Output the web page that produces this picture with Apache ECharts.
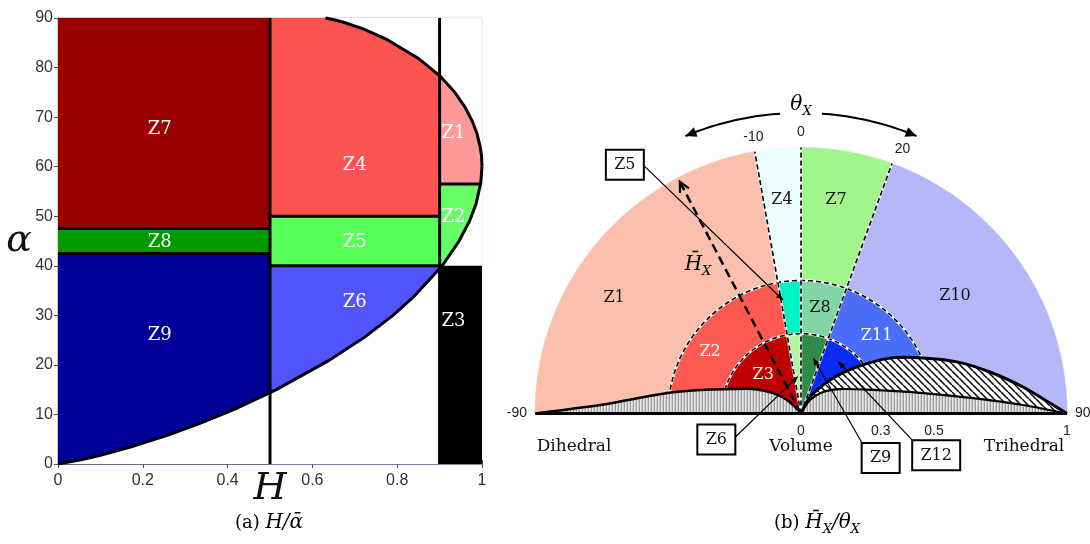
<!DOCTYPE html>
<html>
<head>
<meta charset="utf-8">
<title>H/alpha and Hx/thetaX zones</title>
<script src="https://cdn.jsdelivr.net/npm/echarts@6.0.0/dist/echarts.min.js"></script>
<style>
  html, body { margin: 0; padding: 0; background: #fff; }
  #main { width: 1090px; height: 544px; }
</style>
</head>
<body>
<div id="main"></div>
<script>
// ---------- (a) H / alpha plane ----------
const hTicks = [0, 0.2, 0.4, 0.6, 0.8, 1];
const alphaTicks = [0, 10, 20, 30, 40, 50, 60, 70, 80, 90];

const zoneNamesA = ['Z7', 'Z8', 'Z9', 'Z4', 'Z5', 'Z6', 'Z1', 'Z2', 'Z3'];
const zoneHA = [[0, 0.5], [0, 0.5], [0, 0.5], [0.5, 0.9], [0.5, 0.9], [0.5, 0.9], [0.9, 1], [0.9, 1], [0.9, 1]];
const zoneAlphaA = [[47.5, 90], [42.5, 47.5], [0, 42.5], [50, 90], [40, 50], [0, 40], [56.5, 90], [40, 56.5], [0, 40]];
const zoneLabelA = [[0.24, 67.5], [0.24, 44.8], [0.24, 26], [0.70, 60.3], [0.70, 44.8], [0.70, 32.7], [0.933, 66.8], [0.933, 49.8], [0.933, 28.7]];

// lower and upper limits of the feasible region (H, alpha)
const curveLowA = [[0, 0], [0.057, 0.9], [0.1, 1.76], [0.173, 3.46], [0.261, 5.89], [0.335, 8.18], [0.417, 11.05],
  [0.515, 15.0], [0.637, 20.8], [0.725, 25.7], [0.790, 30], [0.839, 33.75], [0.906, 40], [0.946, 45],
  [0.971, 49.1], [0.986, 52.5], [0.997, 56.7], [1, 60]];
const curveHighA = [[0.631, 90], [0.656, 89.55], [0.675, 89.1], [0.72, 87.8], [0.775, 85.7], [0.851, 81.8],
  [0.901, 78.3], [0.936, 75], [0.960, 72], [0.977, 69.2], [0.988, 66.7], [0.995, 64.3], [0.999, 62.1], [1, 60]];

// zone separators (H0, a0, H1, a1)
const bordersA = [[0.5, 0, 0.5, 90], [0.9, 0, 0.9, 90], [0, 47.5, 0.5, 47.5], [0, 42.5, 0.5, 42.5],
  [0.5, 50, 0.9, 50], [0.5, 40, 0.9, 40], [0.9, 56.5, 1, 56.5]];

// ---------- (b) Hx / thetaX half disc ----------
const thetaTicks = [-90, -10, 0, 20, 90];
const hxTicks = [0, 0.3, 0.5, 1];
const zoneNamesB = [
  ['Z3', 'Z6', 'Z9', 'Z12'],
  ['Z2', 'Z5', 'Z8', 'Z11'],
  ['Z1', 'Z4', 'Z7', 'Z10']
];
const labelNamesB = ['Z1', 'Z4', 'Z7', 'Z10', 'Z2', 'Z3', 'Z8', 'Z11'];
const labelPosB = [[0.826, -58.3], [0.806, -5.1], [0.813, 9.3], [0.728, 52.7], [0.413, -55.8], [0.203, -44.4], [0.402, 10.2], [0.407, 44.3]];

// (Hx, thetaX) boundary curves
const dihedralCurve = [[1, -90], [0.756, -87.6], [0.51, -81.3], [0.39, -76.9], [0.272, -70.2], [0.203, -63],
  [0.13, -53.8], [0.073, -46], [0.017, -40.6], [0, 0]];
const trihedralCurve = [[0, 0], [0.061, 33.7], [0.116, 45.7], [0.173, 57.9], [0.285, 71.9], [0.465, 80.5],
  [0.649, 84.9], [0.835, 87.8], [1, 90]];
const hatchCurve = [[0, 0], [0.071, 28.6], [0.167, 40.9], [0.274, 50.3], [0.394, 58.1], [0.504, 65.5],
  [0.618, 71.7], [0.727, 77.6], [0.841, 83.2], [0.937, 87.6], [1, 90]];

const calloutNames = ['Z5', 'Z6', 'Z9', 'Z12'];
const calloutBox = [[1.146, -35.3], [0.333, -107.1], [0.343, 119.2], [0.532, 107.2]];
const calloutFrom = [[1.098, -32.3], [0.262, -109.7], [0.255, 115.8], [0.429, 103.4]];
const calloutTip = [[0.432, -9.0], [0.139, -5.1], [0.213, 12.6], [0.240, 35.8]];
const hxArrowTip = [0.983, -27.6];
const hxLabelAt = [0.68, -34.7];
const thetaArrow = [1.13, 4, 22.6];

// ---------- styles ----------
const SERIF = '"DejaVu Serif", serif';
const SANS = '"Liberation Sans", Arial, sans-serif';
const zoneColorA = { Z7: '#990000', Z8: '#009900', Z9: '#000099', Z4: '#ff5252', Z5: '#55ff55',
  Z6: '#5252ff', Z1: '#ff9999', Z2: '#66ff66', Z3: '#000000' };
const zoneColorB = { Z1: '#fbbfad', Z4: '#ebfdfd', Z7: '#a2f58c', Z10: '#b4b8f8',
  Z2: '#ff5a52', Z5: '#00f3c4', Z8: '#80d6a6', Z11: '#4a6ef8',
  Z3: '#c00000', Z6: '#b6f4a3', Z9: '#2e8b48', Z12: '#0a2cf2' };
const whiteLabelsB = ['Z2', 'Z3', 'Z11'];

function makePattern(w, h, draw) {
  const c = document.createElement('canvas');
  c.width = w; c.height = h;
  draw(c.getContext('2d'));
  return { image: c, repeat: 'repeat' };
}
const greyPattern = makePattern(3, 4, g => {
  g.fillStyle = '#d0d0d0'; g.fillRect(0, 0, 3, 4);
  g.fillStyle = '#9c9c9c'; g.fillRect(0, 0, 1, 4);
  g.fillStyle = '#e8e8e8'; g.fillRect(1, 0, 1, 4);
});
const hatchPattern = makePattern(7, 7, g => {
  g.fillStyle = '#fff'; g.fillRect(0, 0, 7, 7);
  g.strokeStyle = '#000'; g.lineWidth = 1.5;
  [-7, 0, 7].forEach(k => { g.beginPath(); g.moveTo(k, 0); g.lineTo(k + 7, 7); g.stroke(); });
});

// ---------- helpers ----------
function arcPoints(api, r, t0, t1, n) {
  n = n || Math.max(2, Math.ceil(Math.abs(t1 - t0)));
  const pts = [];
  for (let k = 0; k <= n; k++) pts.push(api.coord([r, t0 + (t1 - t0) * k / n]));
  return pts;
}
function sectorPoints(api, r0, r1, t0, t1) {
  const pts = arcPoints(api, r1, t0, t1);
  if (r0 === 0) pts.push(api.coord([0, 0]));
  else pts.push(...arcPoints(api, r0, t1, t0));
  return pts;
}
function line(pts, color, width, dash, smooth) {
  return { type: 'polyline', shape: { points: pts, smooth: smooth || 0 },
    style: { stroke: color, lineWidth: width, fill: 'none', lineDash: dash || null } };
}
function arrowHead(tip, from, len, half) {
  const dx = tip[0] - from[0], dy = tip[1] - from[1];
  const d = Math.hypot(dx, dy) || 1, ux = dx / d, uy = dy / d;
  const bx = tip[0] - ux * len, by = tip[1] - uy * len;
  return [[bx - uy * half, by + ux * half], tip, [bx + uy * half, by - ux * half]];
}
function text(x, y, str, size, color, extra) {
  return { type: 'text', style: Object.assign({ text: str, x: x, y: y, fill: color, fontSize: size,
    fontFamily: SERIF, align: 'center', verticalAlign: 'middle' }, extra || {}) };
}
const subRich = {
  h: { fontFamily: SERIF, fontStyle: 'italic', fontSize: 20, lineHeight: 26, color: '#111' },
  s: { fontFamily: SERIF, fontStyle: 'italic', fontSize: 13, lineHeight: 14, verticalAlign: 'bottom', color: '#111' },
  n: { fontFamily: SERIF, fontSize: 18, lineHeight: 26, color: '#111' }
};
const one = [[0, 0]];

// ---------- chart ----------
const chart = echarts.init(document.getElementById('main'));

const option = {
  animation: false,
  backgroundColor: '#fff',
  grid: [{ left: 58, top: 18, width: 424, height: 446 }],
  xAxis: [
    {
      type: 'value', gridIndex: 0, min: hTicks[0], max: hTicks[hTicks.length - 1], interval: hTicks[1] - hTicks[0],
      name: 'H', nameLocation: 'middle', nameGap: 6, nameMoveOverlap: false,
      nameTextStyle: { fontFamily: SERIF, fontStyle: 'italic', fontSize: 38, color: '#111' },
      axisLine: { lineStyle: { color: '#8c8c8c', width: 1 } },
      axisTick: { inside: true, length: 4, lineStyle: { color: '#555' } },
      axisLabel: { fontFamily: SANS, fontSize: 16, color: '#333', margin: 9 },
      splitLine: { show: false }
    },
    {
      type: 'value', gridIndex: 0, position: 'top', min: hTicks[0], max: hTicks[hTicks.length - 1], interval: hTicks[1] - hTicks[0],
      axisLine: { lineStyle: { color: '#8c8c8c', width: 1 } },
      axisTick: { inside: true, length: 4, lineStyle: { color: '#555' } },
      axisLabel: { show: false }, splitLine: { show: false }
    }
  ],
  yAxis: [
    {
      type: 'value', gridIndex: 0, min: alphaTicks[0], max: alphaTicks[alphaTicks.length - 1], interval: alphaTicks[1] - alphaTicks[0],
      name: 'α', nameLocation: 'middle', nameGap: 26, nameRotate: 0, nameMoveOverlap: false,
      nameTextStyle: { fontFamily: SERIF, fontStyle: 'italic', fontSize: 38, color: '#111' },
      axisLine: { lineStyle: { color: '#8c8c8c', width: 1 } },
      axisTick: { inside: true, length: 4, lineStyle: { color: '#555' } },
      axisLabel: { fontFamily: SANS, fontSize: 16, color: '#333', margin: 5 },
      splitLine: { show: false }
    },
    {
      type: 'value', gridIndex: 0, position: 'right', min: alphaTicks[0], max: alphaTicks[alphaTicks.length - 1], interval: alphaTicks[1] - alphaTicks[0],
      axisLine: { lineStyle: { color: '#8c8c8c', width: 1 } },
      axisTick: { inside: true, length: 4, lineStyle: { color: '#555' } },
      axisLabel: { show: false }, splitLine: { show: false }
    }
  ],
  polar: { center: [801, 413.5], radius: [0, 266] },
  angleAxis: {
    type: 'value', min: thetaTicks[0], max: thetaTicks[thetaTicks.length - 1], interval: 10,
    startAngle: 180, endAngle: 0, clockwise: true,
    axisLine: { show: false }, axisTick: { show: false }, splitLine: { show: false },
    axisLabel: {
      margin: 8, fontFamily: SANS, fontSize: 14, color: '#222',
      formatter: v => (thetaTicks.indexOf(Math.round(v)) >= 0 ? String(Math.round(v)) : '')
    }
  },
  radiusAxis: {
    type: 'value', min: 0, max: 1, interval: 0.1,
    axisLine: { show: false }, axisTick: { show: false }, splitLine: { show: false },
    axisLabel: { show: false }
  },
  series: [
    // ---- (a) zone fills ----
    {
      type: 'custom', xAxisIndex: 0, yAxisIndex: 0, z: 2,
      data: zoneNamesA.map((n, i) => [i, 0]).filter(d => zoneNamesA[d[0]] !== 'Z3'),
      renderItem: (params, api) => {
        const i = api.value(0);
        const p0 = api.coord([zoneHA[i][0], zoneAlphaA[i][1]]);
        const p1 = api.coord([zoneHA[i][1], zoneAlphaA[i][0]]);
        const c = zoneColorA[zoneNamesA[i]];
        return { type: 'rect', shape: { x: p0[0], y: p0[1], width: p1[0] - p0[0], height: p1[1] - p0[1] },
          style: { fill: c, stroke: c, lineWidth: 0.5 } };
      }
    },
    // ---- (a) outside feasible region ----
    {
      type: 'custom', xAxisIndex: 0, yAxisIndex: 0, z: 3, data: one,
      renderItem: (params, api) => ({
        type: 'group', children: [
          { type: 'polygon', shape: { points: curveLowA.concat([[1, 0]]).map(p => api.coord(p)) }, style: { fill: '#fff' } },
          { type: 'polygon', shape: { points: curveHighA.concat([[1, 90]]).map(p => api.coord(p)) }, style: { fill: '#fff' } }
        ]
      })
    },
    // ---- (a) Z3 ----
    {
      type: 'custom', xAxisIndex: 0, yAxisIndex: 0, z: 4,
      data: [[zoneNamesA.indexOf('Z3'), 0]],
      renderItem: (params, api) => {
        const i = api.value(0);
        const p0 = api.coord([zoneHA[i][0], zoneAlphaA[i][1]]);
        const p1 = api.coord([zoneHA[i][1], zoneAlphaA[i][0]]);
        return { type: 'rect', shape: { x: p0[0], y: p0[1], width: p1[0] - p0[0], height: p1[1] - p0[1] },
          style: { fill: zoneColorA.Z3 } };
      }
    },
    // ---- (a) separators and curves ----
    {
      type: 'custom', xAxisIndex: 0, yAxisIndex: 0, z: 5, data: one,
      renderItem: (params, api) => {
        const children = bordersA.map(b => line([api.coord([b[0], b[1]]), api.coord([b[2], b[3]])], '#000', 3));
        children.push(line(curveLowA.map(p => api.coord(p)), '#000', 3));
        children.push(line(curveHighA.map(p => api.coord(p)), '#000', 3));
        return { type: 'group', children: children };
      }
    },
    // ---- (a) zone labels ----
    {
      type: 'custom', xAxisIndex: 0, yAxisIndex: 0, z: 6,
      data: zoneNamesA.map((n, i) => [i, 0]),
      renderItem: (params, api) => {
        const i = api.value(0);
        const p = api.coord(zoneLabelA[i]);
        return text(p[0], p[1], zoneNamesA[i], 18, '#fff');
      }
    },
    // ---- (b) sector fills ----
    {
      type: 'custom', coordinateSystem: 'polar', z: 2,
      data: [0, 1, 2].flatMap(i => [0, 1, 2, 3].map(j => [i, j])),
      renderItem: (params, api) => {
        const i = api.value(0), j = api.value(1);
        const c = zoneColorB[zoneNamesB[i][j]];
        return { type: 'polygon', shape: { points: sectorPoints(api, hxTicks[i], hxTicks[i + 1], thetaTicks[j], thetaTicks[j + 1]) },
          style: { fill: c, stroke: c, lineWidth: 0.6 } };
      }
    },
    // ---- (b) dashed zone borders ----
    {
      type: 'custom', coordinateSystem: 'polar', z: 3, data: one,
      renderItem: (params, api) => {
        const children = [];
        const c = api.coord([0, 0]);
        [hxTicks[1], hxTicks[2]].forEach(r => {
          const pts = arcPoints(api, r, -90, 90);
          children.push(line(pts, '#fff', 2.5), line(pts, '#000', 1.6, [5, 3]));
        });
        thetaTicks.slice(1, -1).forEach(t => {
          const pts = [c, api.coord([1, t])];
          children.push(line(pts, 'rgba(255,255,255,0.8)', 2.5), line(pts, '#000', 1.6, [5, 3]));
        });
        return { type: 'group', children: children };
      }
    },
    // ---- (b) non-physical regions ----
    {
      type: 'custom', coordinateSystem: 'polar', z: 4, data: one,
      renderItem: (params, api) => {
        const P = arr => arr.map(p => api.coord(p));
        const hatchPoly = P(hatchCurve).concat(P(trihedralCurve.slice().reverse()));
        return { type: 'group', children: [
          { type: 'polygon', shape: { points: P(dihedralCurve) }, style: { fill: greyPattern } },
          { type: 'polygon', shape: { points: P(trihedralCurve) }, style: { fill: greyPattern } },
          { type: 'polygon', shape: { points: hatchPoly }, style: { fill: hatchPattern } },
          line(P(dihedralCurve), '#000', 2.5, null, 0.25),
          line(P(trihedralCurve), '#000', 2.2, null, 0.25),
          line(P(hatchCurve), '#000', 3, null, 0.25),
          line([api.coord([1, -90]), api.coord([0, 0]), api.coord([1, 90])], '#000', 3)
        ] };
      }
    },
    // ---- (b) zone labels and Hx tick labels ----
    {
      type: 'custom', coordinateSystem: 'polar', z: 5,
      data: labelPosB,
      renderItem: (params, api) => {
        const i = params.dataIndex;
        const p = api.coord(labelPosB[i]);
        const n = labelNamesB[i];
        return text(p[0], p[1], n, 16, whiteLabelsB.indexOf(n) >= 0 ? '#fff' : '#111');
      }
    },
    {
      type: 'custom', coordinateSystem: 'polar', z: 5,
      data: hxTicks.map(v => [v, 90]),
      renderItem: (params, api) => {
        const v = hxTicks[params.dataIndex];
        const p = api.coord([v, 90]);
        return text(p[0], p[1] + 18, String(v), 14, '#222', { fontFamily: SANS });
      }
    },
    // ---- (b) annotations: arrows and callouts ----
    {
      type: 'custom', coordinateSystem: 'polar', z: 6, data: one,
      renderItem: (params, api) => {
        const children = [];
        // thetaX double arrow
        [-1, 1].forEach(sgn => {
          const pts = arcPoints(api, thetaArrow[0], sgn * thetaArrow[1], sgn * thetaArrow[2], 24);
          children.push(line(pts, '#000', 2));
          children.push({ type: 'polygon', shape: { points: arrowHead(pts[pts.length - 1], pts[pts.length - 4], 11, 5) },
            style: { fill: '#000' } });
        });
        const tl = api.coord([thetaArrow[0] + 0.03, 0]);
        children.push({ type: 'text', style: { text: '{h|θ}{s|X}', rich: subRich, x: tl[0], y: tl[1], align: 'center', verticalAlign: 'middle' } });
        // Hx dashed arrow
        const c = api.coord([0, 0]);
        const tip = api.coord(hxArrowTip);
        children.push(line([c, tip], '#000', 2.5, [9, 5]));
        children.push(line(arrowHead(tip, c, 10, 5), '#000', 2.2));
        const hl = api.coord(hxLabelAt);
        children.push({ type: 'text', style: { text: '{h|H\u0304}{s|X}', rich: subRich, x: hl[0], y: hl[1], align: 'center', verticalAlign: 'middle' } });
        // callout boxes
        calloutNames.forEach((n, i) => {
          const a = api.coord(calloutFrom[i]);
          const t = api.coord(calloutTip[i]);
          const b = api.coord(calloutBox[i]);
          children.push(line([a, t], '#000', 1.2));
          children.push({ type: 'polygon', shape: { points: arrowHead(t, a, 7, 3) }, style: { fill: '#000' } });
          const w = n.length > 2 ? 48 : 38, h = 30;
          children.push({ type: 'rect', shape: { x: b[0] - w / 2, y: b[1] - h / 2, width: w, height: h },
            style: { fill: '#fff', stroke: '#000', lineWidth: 2 } });
          children.push(text(b[0], b[1], n, 16, '#111'));
        });
        return { type: 'group', children: children };
      }
    }
  ],
  graphic: [
    { type: 'text', x: 574, y: 447, style: { text: 'Dihedral', fontFamily: SERIF, fontSize: 17, fill: '#111', align: 'center', verticalAlign: 'middle' } },
    { type: 'text', x: 801, y: 447, style: { text: 'Volume', fontFamily: SERIF, fontSize: 17, fill: '#111', align: 'center', verticalAlign: 'middle' } },
    { type: 'text', x: 1024, y: 447, style: { text: 'Trihedral', fontFamily: SERIF, fontSize: 17, fill: '#111', align: 'center', verticalAlign: 'middle' } },
    { type: 'text', x: 269, y: 523, style: { text: '{n|(a) }{h|H/ᾱ}', rich: subRich, align: 'center', verticalAlign: 'middle' } },
    { type: 'text', x: 817, y: 523, style: { text: '{n|(b) }{h|H\u0304}{s|X}{h|/θ}{s|X}', rich: subRich, align: 'center', verticalAlign: 'middle' } }
  ]
};

chart.setOption(option);
</script>
</body>
</html>
